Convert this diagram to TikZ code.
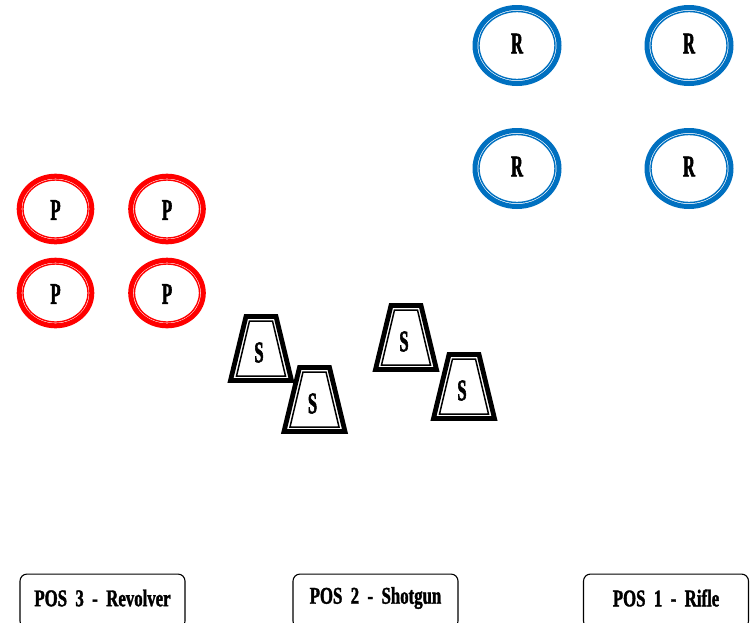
\documentclass[tikz,border=0pt]{standalone}
\usepackage{fontspec}
\newfontfamily\lblfont[FakeStretch=0.55,BoldFeatures={FakeBold=1.8}]{Liberation Serif}
\newfontfamily\boxfont[FakeStretch=0.7,WordSpace=2,BoldFeatures={FakeBold=1.5}]{Liberation Serif}
\definecolor{ringblue}{RGB}{0,112,192}
\definecolor{ringred}{RGB}{255,0,0}
\tikzset{
  lbl/.style={inner sep=0pt, font=\lblfont\bfseries\fontsize{30}{30}\selectfont},
  ringout/.style={line width=5pt},
  ringin/.style={line width=1.4pt},
  trapout/.style={line width=4.8pt, line join=miter},
  trapin/.style={line width=1.5pt, line join=miter},
  posbox/.style={draw, line width=1.1pt, rounded corners=7pt, minimum width=165pt, minimum height=54pt, anchor=north, inner sep=0pt},
  postext/.style={inner sep=0pt, font=\boxfont\bfseries\fontsize{24}{24}\selectfont},
}
\newcommand\ringR[3]{%
  \draw[ringblue, ringout] (#2,#3) ellipse [x radius=42pt, y radius=38pt];
  \draw[ringblue, ringin] (#2,#3) ellipse [x radius=38pt, y radius=34pt];
  \node[lbl] (#1) at (#2,#3-2) {R};}
\newcommand\ringP[3]{%
  \draw[ringred, ringout] (#2,#3) ellipse [x radius=36.3pt, y radius=32.8pt];
  \draw[ringred, ringin] (#2,#3) ellipse [x radius=32.5pt, y radius=29pt];
  \node[lbl] (#1) at (#2,#3+1) {P};}
\newcommand\trapS[3]{%
  \begin{scope}[shift={(#2,#3)}]
    \draw[trapout] (-15,-32) -- (15,-32) -- (30.5,32) -- (-30.5,32) -- cycle;
    \draw[trapin] (-11.5,-27.5) -- (11.5,-27.5) -- (24.5,27.5) -- (-24.5,27.5) -- cycle;
    \node[lbl] (#1) at (-2,4) {S};
  \end{scope}}
\begin{document}
\begin{tikzpicture}[x=1pt,y=-1pt]
\useasboundingbox (0,0) rectangle (755,622);
\fill[white] (0,0) rectangle (755,622);
% rifle targets
\ringR{r1}{517}{45.5}
\ringR{r2}{689}{45.5}
\ringR{r3}{517}{168.5}
\ringR{r4}{689}{168.5}
% pistol targets
\ringP{p1}{55.5}{209}
\ringP{p2}{167}{209}
\ringP{p3}{55.5}{293}
\ringP{p4}{167}{293}
% shotgun targets
\trapS{s1}{261}{348.5}
\trapS{s2}{314.5}{399.5}
\trapS{s3}{406}{337.5}
\trapS{s4}{464}{386.5}
% position boxes
\node[posbox] (pos3) at (102.5,573.5) {};
\node[posbox] (pos2) at (375.5,573.5) {};
\node[posbox] (pos1) at (666,573.5) {};
\node[postext] (t3) at (102.5,598) {POS 3 - Revolver};
\node[postext] (t2) at (375.5,598) {POS 2 - Shotgun};
\node[postext] (t1) at (666,598) {POS 1 - Rifle};
\end{tikzpicture}
\end{document}
